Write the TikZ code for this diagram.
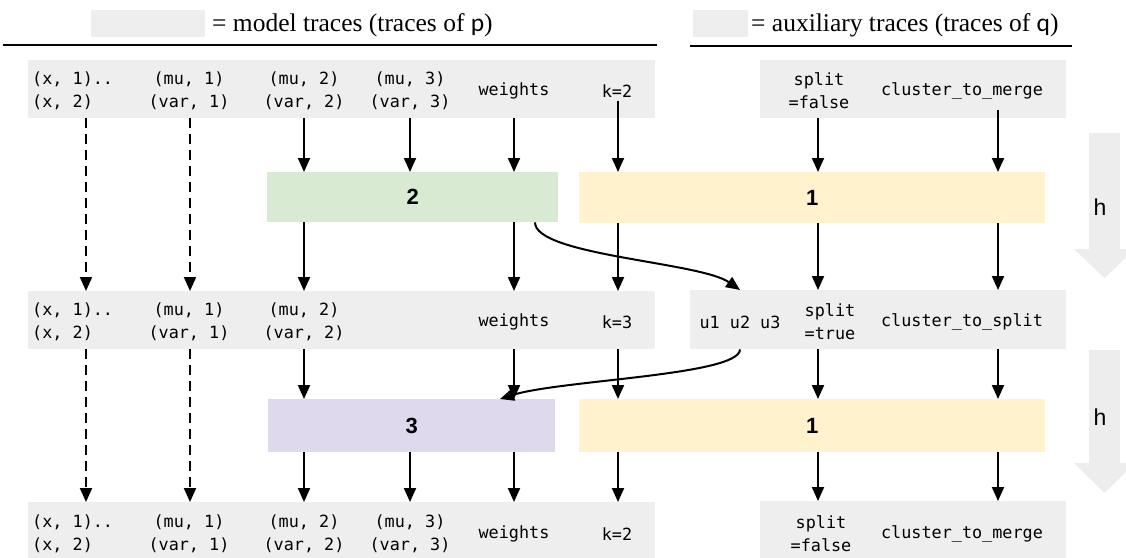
\documentclass[tikz,border=0pt]{standalone}
\usepackage{fontspec}
\setmainfont{Liberation Serif}
\setsansfont{Liberation Sans}
\setmonofont{DejaVu Sans Mono}
\newfontfamily\calib{Carlito}
\usetikzlibrary{arrows.meta,calc}
\definecolor{tracegray}{HTML}{EEEEEE}
\definecolor{boxgreen}{HTML}{D9EAD3}
\definecolor{boxyellow}{HTML}{FFF2CC}
\definecolor{boxpurple}{HTML}{DFD9EE}
\definecolor{arrowgray}{HTML}{EDEDED}
\begin{document}
\begin{tikzpicture}[x=1pt,y=-1pt,
  trace/.style={fill=tracegray, draw=none, inner sep=0pt, anchor=north west},
  mono/.style={font=\fontsize{16.8}{23}\selectfont\ttfamily, inner sep=0pt, align=center},
  monol/.style={mono, align=left, anchor=west},
  kernel/.style={draw=none, inner sep=0pt, anchor=north west, font=\fontsize{22}{26}\selectfont\sffamily\bfseries},
  legend/.style={anchor=base west, inner sep=0pt, font=\fontsize{25.5}{30}\selectfont},
  flow/.style={line width=2pt, -{Triangle[width=12pt,length=14pt]}},
  flowd/.style={flow, dash pattern=on 10pt off 6pt},
  hlabel/.style={inner sep=0pt, font=\fontsize{23}{26}\selectfont\sffamily},
  rule/.style={line width=2pt}
  ]
\useasboundingbox (0,0) rectangle (1126,557);

% legend
\node[trace, minimum width=114pt, minimum height=27pt] (lg1) at (91,10) {};
\node[legend] (lt1) at (212,31) {= model traces (traces of {\calib p})};
\node[trace, minimum width=55pt, minimum height=27pt] (lg2) at (693,10) {};
\node[legend] (lt2) at (751,31) {= auxiliary traces (traces of {\calib q})};
\coordinate (l1a) at (3,45); \coordinate (l1b) at (657,45);
\coordinate (l2a) at (690,46); \coordinate (l2b) at (1072,46);
\draw[rule] (l1a) -- (l1b);
\draw[rule] (l2a) -- (l2b);

% trace rows
\node[trace, minimum width=627pt, minimum height=58pt] (r1L) at (28,60) {};
\node[trace, minimum width=306pt, minimum height=58pt] (r1R) at (760,60) {};
\node[trace, minimum width=627pt, minimum height=58pt] (r2L) at (28,291) {};
\node[trace, minimum width=376pt, minimum height=59pt] (r2R) at (690,290) {};
\node[trace, minimum width=627pt, minimum height=60pt] (r3L) at (28,502) {};
\node[trace, minimum width=306pt, minimum height=61pt] (r3R) at (760,501) {};

% kernel boxes
\node[kernel, fill=boxgreen, minimum width=291pt, minimum height=50pt] (g2) at (267,172) {2};
\node[kernel, fill=boxyellow, minimum width=466pt, minimum height=51pt] (y1) at (579,172) {1};
\node[kernel, fill=boxpurple, minimum width=287pt, minimum height=53pt] (p3) at (268,399) {3};
\node[kernel, fill=boxyellow, minimum width=466pt, minimum height=53pt] (y2) at (579,399) {1};

% row texts
\node[monol] (t11) at (32,91) {(x, 1)..\\(x, 2)};
\node[mono] (t12) at (189,91) {(mu, 1)\\(var, 1)};
\node[mono] (t13) at (304,91) {(mu, 2)\\(var, 2)};
\node[mono] (t14) at (410,91) {(mu, 3)\\(var, 3)};
\node[mono] (t15) at (514,91) {weights};
\node[mono] (t16) at (617,91) {k=2};
\node[mono] (t17) at (819,91) {split\\=false};
\node[mono] (t18) at (962,91) {cluster\_to\_merge};

\node[monol] (t21) at (32,322) {(x, 1)..\\(x, 2)};
\node[mono] (t22) at (189,322) {(mu, 1)\\(var, 1)};
\node[mono] (t23) at (304,322) {(mu, 2)\\(var, 2)};
\node[mono] (t25) at (514,322) {weights};
\node[mono] (t26) at (617,322) {k=3};
\node[mono] (t2u) at (740,322) {u1 u2 u3};
\node[mono] (t27) at (830,322) {split\\=true};
\node[mono] (t28) at (962,322) {cluster\_to\_split};

\node[monol] (t31) at (32,534) {(x, 1)..\\(x, 2)};
\node[mono] (t32) at (189,534) {(mu, 1)\\(var, 1)};
\node[mono] (t33) at (304,534) {(mu, 2)\\(var, 2)};
\node[mono] (t34) at (410,534) {(mu, 3)\\(var, 3)};
\node[mono] (t35) at (514,534) {weights};
\node[mono] (t36) at (617,534) {k=2};
\node[mono] (t37) at (821,534) {split\\=false};
\node[mono] (t38) at (962,534) {cluster\_to\_merge};

% columns
\coordinate (c1) at (86,0);
\coordinate (c2) at (190,0);
\coordinate (c3) at (304,0);
\coordinate (c4) at (410,0);
\coordinate (c5) at (514,0);
\coordinate (c6) at (618,0);
\coordinate (c7) at (818,0);
\coordinate (c8) at (998,0);
\coordinate (cu1) at (535,0);
\coordinate (cu2) at (740,0);
\coordinate (cu3) at (500,0);

% row 1 -> kernels / row 2
\draw[flowd] (r1L.south -| c1) -- (r2L.north -| c1);
\draw[flowd] (r1L.south -| c2) -- (r2L.north -| c2);
\draw[flow] (r1L.south -| c3) -- (g2.north -| c3);
\draw[flow] (r1L.south -| c4) -- (g2.north -| c4);
\draw[flow] (r1L.south -| c5) -- (g2.north -| c5);
\draw[flow] ($(t16.south -| c6)+(0,3)$) -- (y1.north -| c6);
\draw[flow] (r1R.south -| c7) -- (y1.north -| c7);
\draw[flow] ($(r1R.south -| c8)+(0,-8)$) -- (y1.north -| c8);

% kernels -> row 2
\draw[flow] (g2.south -| c3) -- (r2L.north -| c3);
\draw[flow] (g2.south -| c5) -- (r2L.north -| c5);
\draw[flow] (y1.south -| c6) -- (r2L.north -| c6);
\draw[flow] (y1.south -| c7) -- (r2R.north -| c7);
\draw[flow] (y1.south -| c8) -- (r2R.north -| c8);
\draw[flow] (g2.south -| cu1) .. controls +(0,33) and +(-40,-28) .. (r2R.north -| cu2);

% row 2 -> kernels / row 3
\draw[flowd] (r2L.south -| c1) -- (r3L.north -| c1);
\draw[flowd] (r2L.south -| c2) -- (r3L.north -| c2);
\draw[flow] (r2L.south -| c3) -- (p3.north -| c3);
\draw[flow] (r2L.south -| c5) -- (p3.north -| c5);
\draw[flow] (r2L.south -| c6) -- (y2.north -| c6);
\draw[flow] (r2R.south -| c7) -- (y2.north -| c7);
\draw[flow] (r2R.south -| c8) -- (y2.north -| c8);
\draw[flow] (r2R.south -| cu2) .. controls +(0,26) and +(60,-19) .. (p3.north -| cu3);

% kernels -> row 3
\draw[flow] (p3.south -| c3) -- (r3L.north -| c3);
\draw[flow] (p3.south -| c4) -- (r3L.north -| c4);
\draw[flow] (p3.south -| c5) -- (r3L.north -| c5);
\draw[flow] (y2.south -| c6) -- (r3L.north -| c6);
\draw[flow] (y2.south -| c7) -- (r3R.north -| c7);
\draw[flow] (y2.south -| c8) -- (r3R.north -| c8);

% big grey h arrows
\fill[arrowgray] (1089,133) -- (1120,133) -- (1120,249) -- (1135,249) -- (1104.5,278) -- (1074,249) -- (1089,249) -- cycle;
\fill[arrowgray] (1089,350) -- (1120,350) -- (1120,463) -- (1135,463) -- (1104.5,493) -- (1074,463) -- (1089,463) -- cycle;
\node[hlabel] (h1) at (1100,207) {h};
\node[hlabel] (h2) at (1100,417) {h};
\end{tikzpicture}
\end{document}
